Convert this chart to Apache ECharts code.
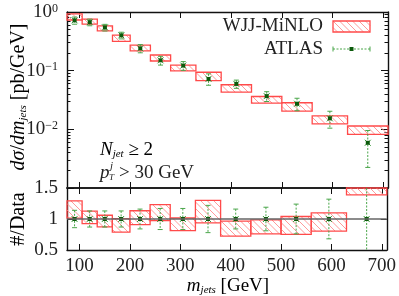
<!DOCTYPE html>
<html><head><meta charset="utf-8">
<script src="https://cdn.jsdelivr.net/npm/echarts@6/dist/echarts.min.js"></script>
<style>html,body{margin:0;padding:0;background:#fff}#c{width:399px;height:296px}</style>
</head><body><div id="c"></div>
<script>
// ---- data ----
const binEdges = [75,105,135,165,200,240,280,330,380,440,500,560,630,710];
const atlasValues = [0.72,0.67,0.545,0.40,0.24,0.150,0.122,0.0723,0.0595,0.0368,0.0273,0.0154,0.0059];
const atlasRelErr = [0.14,0.13,0.13,0.13,0.16,0.17,0.17,0.22,0.16,0.19,0.24,0.32,0.62];
const mcLow  = [0.73,0.62,0.475,0.315,0.218,0.146,0.099,0.0677,0.043,0.028,0.0205,0.0124,0.0082];
const mcHigh = [0.93,0.755,0.578,0.403,0.272,0.185,0.124,0.094,0.0575,0.0363,0.0284,0.0169,0.0114];
const xTicks = [100,200,300,400,500,600,700];
const ratioTicks = [0.5,1,1.5];
const logMin = 0.001, logMax = 1;

const minorTicks = [];
for (let d = 0.001; d < 0.9; d *= 10) for (let k = 2; k <= 9; k++) minorTicks.push(+(d*k).toPrecision(3));

// ---- derived tables ----
const mcBoxes = [], atlasPts = [], ratioBoxes = [], ratioPts = [];
for (let i = 0; i < atlasValues.length; i++) {
  const x0 = binEdges[i], x1 = binEdges[i+1], xc = (x0+x1)/2, v = atlasValues[i], e = atlasRelErr[i];
  mcBoxes.push([x0, x1, mcLow[i], mcHigh[i]]);
  ratioBoxes.push([x0, x1, mcLow[i]/v, mcHigh[i]/v]);
  atlasPts.push([xc, v, v*(1-e), v*(1+e)]);
  ratioPts.push([xc, 1, 1-e, 1+e]);
}

const FONT = 'Liberation Serif';
const RED = '#ff4a4a', HATCH = '#ff9a9a', GREEN = '#4aa64a', DKGREEN = '#0b5a0b', TXT = '#222';

function hatchLines(x0, y0, w, h, sp) {
  const x1 = x0 + w, y1 = y0 + h, out = [];
  let c = Math.ceil((x0 - y1) / sp) * sp;
  for (; c <= x1 - y0; c += sp) {
    let sx, sy;
    if (c - (x0 - y0) >= 0) { sx = y0 + c; sy = y0; } else { sx = x0; sy = x0 - c; }
    if (sx < x0) { sy += x0 - sx; sx = x0; }
    const L = Math.min(x1 - sx, y1 - sy);
    if (L <= 0.5) continue;
    out.push({type:'line', shape:{x1:sx, y1:sy, x2:sx+L, y2:sy+L}, style:{stroke:HATCH, lineWidth:1}, silent:true});
  }
  return out;
}

function renderBox(params, api) {
  const a = api.coord([api.value(0), api.value(3)]);
  const b = api.coord([api.value(1), api.value(2)]);
  const cs = params.coordSys;
  const r = echarts.graphic.clipRectByRect({x:a[0], y:a[1], width:b[0]-a[0], height:b[1]-a[1]},
    {x:cs.x, y:cs.y, width:cs.width, height:cs.height});
  if (!r) return null;
  const ch = hatchLines(r.x, r.y, r.width, r.height, 6.5);
  ch.push({type:'rect', shape:{x:r.x, y:r.y, width:r.width, height:r.height},
    style:{fill:'none', stroke:RED, lineWidth:1.3}});
  return {type:'group', children: ch};
}

function renderPt(params, api) {
  const cs = params.coordSys;
  const p = api.coord([api.value(0), api.value(1)]);
  const top = api.coord([api.value(0), api.value(3)]);
  const bot = api.coord([api.value(0), api.value(2)]);
  const yT = Math.max(top[1], cs.y), yB = Math.min(bot[1], cs.y + cs.height);
  const ch = [];
  ch.push({type:'line', shape:{x1:p[0], y1:yT, x2:p[0], y2:yB}, style:{stroke:GREEN, lineWidth:1, lineDash:[2,1.5]}});
  if (top[1] >= cs.y) ch.push({type:'line', shape:{x1:p[0]-2.5, y1:top[1], x2:p[0]+2.5, y2:top[1]}, style:{stroke:GREEN, lineWidth:1}});
  if (bot[1] <= cs.y + cs.height) ch.push({type:'line', shape:{x1:p[0]-2.5, y1:bot[1], x2:p[0]+2.5, y2:bot[1]}, style:{stroke:GREEN, lineWidth:1}});
  ch.push({type:'line', shape:{x1:p[0]-3, y1:p[1]-3, x2:p[0]+3, y2:p[1]+3}, style:{stroke:'#3c9a3c', lineWidth:1}});
  ch.push({type:'line', shape:{x1:p[0]-3, y1:p[1]+3, x2:p[0]+3, y2:p[1]-3}, style:{stroke:'#3c9a3c', lineWidth:1}});
  ch.push({type:'rect', shape:{x:p[0]-2, y:p[1]-2, width:4, height:4}, style:{fill:DKGREEN}});
  return {type:'group', children: ch};
}

const axLine = {show:true, lineStyle:{color:'#111', width:1.4}};
const noLabel = {show:false};
function mkRich(sz) {
  return {
    n: {fontFamily:FONT, fontSize:sz, color:TXT, lineHeight:sz, verticalAlign:'bottom'},
    i: {fontFamily:FONT, fontSize:sz, color:TXT, fontStyle:'italic', lineHeight:sz, verticalAlign:'bottom'},
    sup: {fontFamily:FONT, fontSize:12, color:TXT, lineHeight:12, verticalAlign:'top'},
    sub: {fontFamily:FONT, fontSize:11, color:TXT, fontStyle:'italic', lineHeight:8, verticalAlign:'bottom'}
  };
}
const baseRich = mkRich(18), bigRich = mkRich(20);
function txt(x, y, s, size, italic, align) {
  return {type:'text', x:x, y:y, style:{text:s, fontFamily:FONT, fontSize:size, fontStyle:italic?'italic':'normal', fill:TXT, align:align||'left', verticalAlign:'middle'}};
}

const option = {
  animation: false,
  backgroundColor: '#fff',
  textStyle: {fontFamily: FONT},
  grid: [
    {left:67, right:11, top:12, height:176},
    {left:67, right:11, top:188, height:62}
  ],
  xAxis: [
    {gridIndex:0, type:'value', min:75, max:710, position:'bottom', axisLine:{show:true, lineStyle:{color:'#222', width:2}},
     axisTick:{inside:true, length:6, customValues:xTicks, lineStyle:{color:'#111'}}, axisLabel:noLabel, splitLine:{show:false}},
    {gridIndex:0, type:'value', min:75, max:710, position:'top', axisLine:axLine,
     axisTick:{inside:true, length:6, customValues:xTicks, lineStyle:{color:'#111'}}, axisLabel:noLabel, splitLine:{show:false}},
    {gridIndex:1, type:'value', min:75, max:710, position:'bottom', axisLine:axLine,
     axisTick:{inside:true, length:6, customValues:xTicks, lineStyle:{color:'#111'}},
     axisLabel:{customValues:xTicks, fontFamily:FONT, fontSize:19, color:TXT, margin:7}, splitLine:{show:false}},
    {gridIndex:1, type:'value', min:75, max:710, position:'top', axisLine:{show:false},
     axisTick:{inside:true, length:6, customValues:xTicks, lineStyle:{color:'#111'}}, axisLabel:noLabel, splitLine:{show:false}}
  ],
  yAxis: [
    {gridIndex:0, type:'log', logBase:10, min:logMin, max:logMax, position:'left', axisLine:axLine,
     axisTick:{inside:true, length:7, lineStyle:{color:'#111'}}, splitLine:{show:false},
     axisLabel:{margin:9, fontFamily:FONT, formatter:function(v){const e=Math.round(Math.log10(v)); if(e<=-3) return ''; return '{n|10}{sup|'+(e<0?'\u2212'+(-e):e)+'}';}, rich:mkRich(19)}},
    {gridIndex:0, type:'log', logBase:10, min:logMin, max:logMax, position:'left', axisLine:{show:false},
     axisTick:{inside:true, length:3.5, customValues:minorTicks, lineStyle:{color:'#111'}}, axisLabel:noLabel, splitLine:{show:false}},
    {gridIndex:0, type:'log', logBase:10, min:logMin, max:logMax, position:'right', axisLine:axLine,
     axisTick:{inside:true, length:7, lineStyle:{color:'#111'}}, axisLabel:noLabel, splitLine:{show:false}},
    {gridIndex:0, type:'log', logBase:10, min:logMin, max:logMax, position:'right', axisLine:{show:false},
     axisTick:{inside:true, length:3.5, customValues:minorTicks, lineStyle:{color:'#111'}}, axisLabel:noLabel, splitLine:{show:false}},
    {gridIndex:1, type:'value', min:0.5, max:1.5, interval:0.5, position:'left', axisLine:axLine,
     axisTick:{inside:true, length:6, customValues:ratioTicks, lineStyle:{color:'#111'}}, splitLine:{show:false},
     axisLabel:{customValues:ratioTicks, margin:9, fontFamily:FONT, fontSize:19, color:TXT, formatter:function(v){return String(v);}}},
    {gridIndex:1, type:'value', min:0.5, max:1.5, interval:0.5, position:'right', axisLine:axLine,
     axisTick:{inside:true, length:6, customValues:ratioTicks, lineStyle:{color:'#111'}}, axisLabel:noLabel, splitLine:{show:false}}
  ],
  series: [
    {type:'custom', name:'WJJ-MiNLO', xAxisIndex:0, yAxisIndex:0, data:mcBoxes, encode:{x:[0,1], y:[2,3]}, renderItem:renderBox, z:2},
    {type:'custom', name:'ATLAS', xAxisIndex:0, yAxisIndex:0, data:atlasPts, encode:{x:0, y:[1,2,3]}, renderItem:renderPt, z:3},
    {type:'custom', name:'ratio', xAxisIndex:2, yAxisIndex:4, data:ratioBoxes, encode:{x:[0,1], y:[2,3]}, renderItem:renderBox, z:2,
     markLine:{silent:true, symbol:'none', label:{show:false}, lineStyle:{color:'#666', width:1.6, type:'solid'}, data:[{yAxis:1}]}},
    {type:'custom', name:'ratioData', xAxisIndex:2, yAxisIndex:4, data:ratioPts, encode:{x:0, y:[1,2,3]}, renderItem:renderPt, z:3}
  ],
  graphic: [
    {type:'text', x:19, y:97, rotation:Math.PI/2, style:{text:'{i|d\u03c3}{n|/}{i|dm}{sub|jets}{n| [pb/GeV]}', rich:bigRich, align:'center', verticalAlign:'middle'}},
    {type:'text', x:19, y:219, rotation:Math.PI/2, style:{text:'{n|#/Data}', rich:bigRich, align:'center', verticalAlign:'middle'}},
    {type:'text', x:228, y:286, style:{text:'{i|m}{sub|jets}{n| [GeV]}', rich:mkRich(19), align:'center', verticalAlign:'middle'}},
    {type:'text', x:100, y:150, style:{text:'{i|N}{sub|jet}{n| \u2265 2}', rich:mkRich(19), align:'left', verticalAlign:'middle'}},
    txt(100, 173, 'p', 19, true),
    txt(110, 166, 'j', 11, true),
    txt(109, 178, 'T', 9, true),
    txt(119, 173, '> 30 GeV', 19, false),
    txt(323, 26, 'WJJ-MiNLO', 19, false, 'right'),
    txt(323, 49, 'ATLAS', 19, false, 'right'),
    {type:'group', children: hatchLines(333, 21, 37, 11, 6.5).concat([
      {type:'rect', shape:{x:333, y:21, width:37, height:11}, style:{fill:'none', stroke:RED, lineWidth:1.3}}])},
    {type:'group', children:[
      {type:'line', shape:{x1:333, y1:49, x2:370, y2:49}, style:{stroke:GREEN, lineWidth:1, lineDash:[2,1.5]}},
      {type:'line', shape:{x1:333, y1:46.5, x2:333, y2:51.5}, style:{stroke:GREEN, lineWidth:1}},
      {type:'line', shape:{x1:370, y1:46.5, x2:370, y2:51.5}, style:{stroke:GREEN, lineWidth:1}},
      {type:'rect', shape:{x:349.5, y:47, width:4, height:4}, style:{fill:DKGREEN}}
    ]}
  ]
};

const chart = echarts.init(document.getElementById('c'), null, {renderer:'canvas', width:399, height:296});
chart.setOption(option);
</script>
</body></html>
